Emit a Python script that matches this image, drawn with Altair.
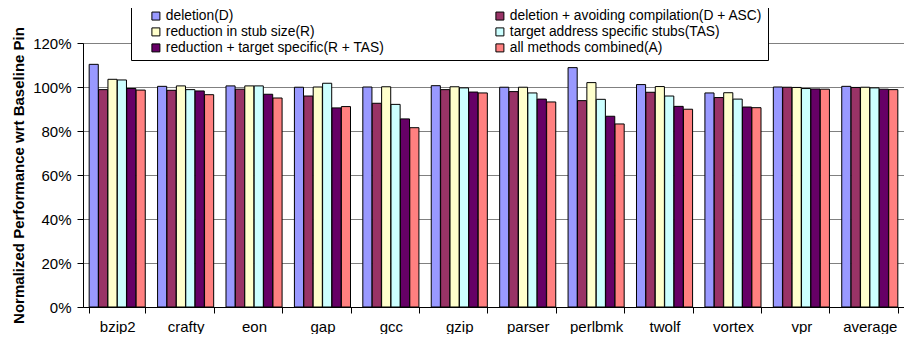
import altair as alt
import pandas as pd

categories = ["bzip2", "crafty", "eon", "gap", "gcc", "gzip", "parser",
              "perlbmk", "twolf", "vortex", "vpr", "average"]
series_names = [
    "deletion(D)",
    "deletion + avoiding compilation(D + ASC)",
    "reduction in stub size(R)",
    "target address specific stubs(TAS)",
    "reduction + target specific(R + TAS)",
    "all methods combined(A)",
]
colors = ["#9999FF", "#993366", "#FFFFCC", "#CCFFFF", "#660066", "#FF8080"]

D = [110.3, 100.3, 100.5, 99.9, 100.0, 100.6, 99.9, 108.8, 101.1, 97.3, 100.0, 100.3]
DASC = [98.8, 98.5, 99.0, 95.9, 92.6, 98.8, 97.9, 93.8, 97.6, 95.2, 99.9, 99.8]
R = [103.5, 100.5, 100.5, 100.0, 100.1, 100.1, 99.9, 102.0, 100.2, 97.4, 99.8, 99.9]
TAS = [103.2, 98.8, 100.5, 101.7, 92.1, 99.6, 97.3, 94.4, 95.9, 94.5, 99.3, 99.6]
RTAS = [99.3, 98.2, 96.7, 90.5, 85.5, 97.7, 94.5, 86.7, 91.2, 90.9, 99.1, 99.0]
A = [98.6, 96.5, 95.0, 91.1, 81.5, 97.3, 93.2, 83.2, 89.9, 90.6, 99.0, 98.8]

y_ticks = [0, 20, 40, 60, 80, 100, 120]

series_values = [D, DASC, R, TAS, RTAS, A]
rows = []
for i, c in enumerate(categories):
    for name, vals in zip(series_names, series_values):
        rows.append({"bench": c, "method": name, "value": vals[i]})
df = pd.DataFrame(rows)

# legend fills column by column: left column D, R, R+TAS; right column D+ASC, TAS, A
legend_order = [0, 2, 4, 1, 3, 5]
legend_domain = [series_names[k] for k in legend_order]
legend_range = [colors[k] for k in legend_order]

FONT = "Liberation Sans"

chart = alt.Chart(df).mark_bar(stroke="black", strokeWidth=1).encode(
    x=alt.X(
        "bench:N", sort=categories,
        scale=alt.Scale(paddingInner=0.18, paddingOuter=0.09),
        axis=alt.Axis(title=None, labelAngle=0, labelFontSize=15, labelColor="black",
                      tickBand="extent", tickSize=6, tickColor="black",
                      domainColor="black", labelPadding=6, grid=False),
    ),
    xOffset=alt.XOffset("method:N", sort=series_names,
                        scale=alt.Scale(paddingInner=0.03)),
    y=alt.Y(
        "value:Q",
        scale=alt.Scale(domain=[0, 120], nice=False),
        axis=alt.Axis(values=y_ticks, labelExpr="datum.value + '%'",
                      title="Normalized Performance wrt Baseline Pin",
                      titleFontSize=15, titleFontWeight="bold", titleColor="black",
                      titlePadding=6,
                      labelFontSize=15, labelColor="black", labelPadding=6,
                      tickSize=6, tickColor="black", domainColor="black",
                      gridColor="#808080", gridWidth=1),
    ),
    color=alt.Color(
        "method:N",
        scale=alt.Scale(domain=legend_domain, range=legend_range),
        legend=alt.Legend(
            orient="none", legendX=48, legendY=-39, columns=2,
            symbolType="square", symbolSize=64, symbolStrokeColor="black",
            symbolStrokeWidth=1, symbolOpacity=1,
            labelFontSize=13.8, labelColor="black", labelLimit=400, labelOffset=3,
            strokeColor="black", fillColor="white", padding=5,
            columnPadding=108, rowPadding=1,
            title=" ", titleOrient="left", titlePadding=13,
        ),
    ),
).properties(
    width=821, height=264,
    autosize=alt.AutoSizeParams(type="none"),
    padding={"left": 75, "top": 35, "right": 0, "bottom": 27},
).configure(font=FONT).configure_view(stroke="#808080")

chart.save("out.html", embed_options={"renderer": "svg", "actions": False})
